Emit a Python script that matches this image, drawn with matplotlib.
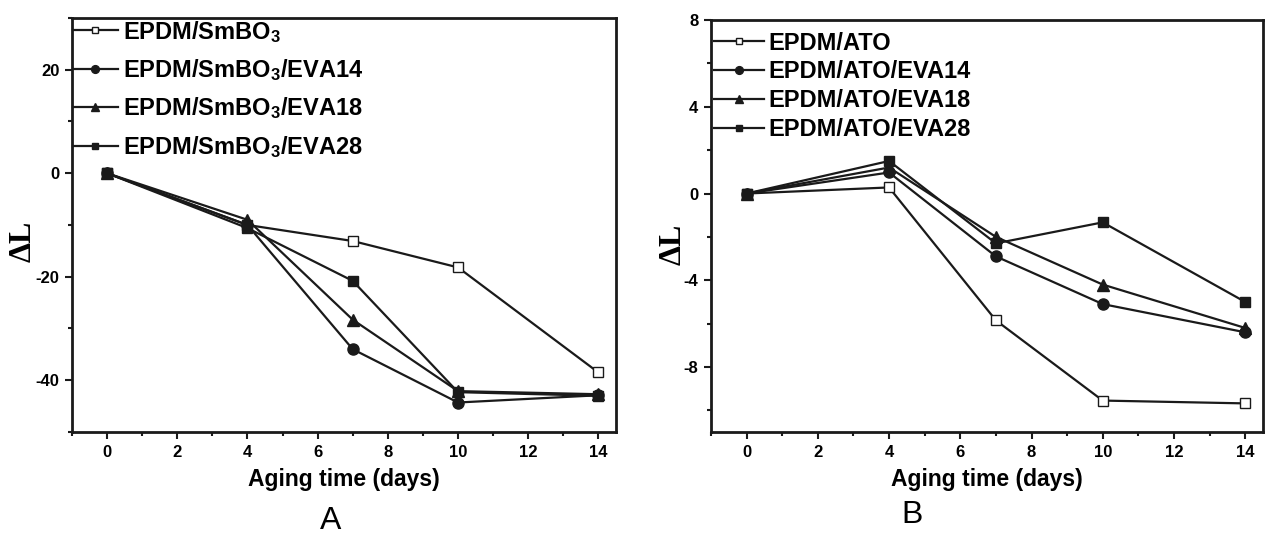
import matplotlib
matplotlib.use("Agg")
import matplotlib.pyplot as plt
from matplotlib.ticker import MultipleLocator

plt.rcParams['font.family'] = ['Liberation Sans', 'DejaVu Sans']
plt.rcParams['mathtext.fontset'] = 'custom'
plt.rcParams['mathtext.bf'] = 'Liberation Sans:bold'
plt.rcParams['mathtext.rm'] = 'Liberation Sans:bold'
plt.rcParams['axes.unicode_minus'] = False

# aging time (days)
days = [0, 4, 7, 10, 14]

# panel A: EPDM/SmBO3 series
a_smbo3 = [0, -10.0, -13.1, -18.2, -38.5]
a_eva14 = [0, -10.0, -34.0, -44.3, -42.9]
a_eva18 = [0, -9.0, -28.3, -42.1, -42.7]
a_eva28 = [0, -10.6, -20.8, -42.3, -43.0]
a_labels = [r'EPDM/SmBO$\mathbf{_3}$', r'EPDM/SmBO$\mathbf{_3}$/EVA14',
            r'EPDM/SmBO$\mathbf{_3}$/EVA18', r'EPDM/SmBO$\mathbf{_3}$/EVA28']

# panel B: EPDM/ATO series
b_ato = [0, 0.28, -5.85, -9.55, -9.68]
b_eva14 = [0, 0.97, -2.9, -5.1, -6.4]
b_eva18 = [0, 1.2, -2.0, -4.2, -6.2]
b_eva28 = [0, 1.5, -2.3, -1.33, -5.0]
b_labels = ['EPDM/ATO', 'EPDM/ATO/EVA14', 'EPDM/ATO/EVA18', 'EPDM/ATO/EVA28']

INK = '#1a1a1a'
STYLES = [dict(marker='s', mfc='white', ms=7),
          dict(marker='o', mfc=INK, ms=8),
          dict(marker='^', mfc=INK, ms=8),
          dict(marker='s', mfc=INK, ms=7)]


def draw_panel(ax, series, labels, ylim, ymajor, yminor, leg_kw):
    for ys, lab, st in zip(series, labels, STYLES):
        ax.plot(days, ys, color=INK, lw=1.6, mec=INK, mew=1.0, label=lab, **st)
    ax.set_xlim(-1, 14.5)
    ax.set_ylim(*ylim)
    ax.xaxis.set_major_locator(MultipleLocator(2))
    ax.xaxis.set_minor_locator(MultipleLocator(1))
    ax.yaxis.set_major_locator(MultipleLocator(ymajor))
    ax.yaxis.set_minor_locator(MultipleLocator(yminor))
    for s in ax.spines.values():
        s.set_linewidth(2)
        s.set_color(INK)
    ax.tick_params(which='major', length=5, width=1.5, color=INK, labelsize=12, pad=4)
    ax.tick_params(which='minor', length=3, width=1.5, color=INK)
    for t in ax.get_xticklabels() + ax.get_yticklabels():
        t.set_fontweight('bold')
    ax.set_xlabel('Aging time (days)', fontsize=16.5, fontweight='bold', labelpad=6)
    ax.set_ylabel('ΔL', fontsize=23, fontweight='bold', family='Liberation Serif')
    ax.legend(loc='upper left', frameon=False, borderpad=0.0, borderaxespad=0.0,
              handletextpad=0.2, markerscale=0.7, **leg_kw)


fig = plt.figure(figsize=(12.76, 5.35), dpi=100)
ax1 = fig.add_axes([0.0564, 0.1925, 0.4263, 0.774])
ax2 = fig.add_axes([0.5572, 0.1925, 0.4326, 0.770])

draw_panel(ax1, [a_smbo3, a_eva14, a_eva18, a_eva28], a_labels, (-50, 30), 20, 10,
           dict(bbox_to_anchor=(0.002, 0.998), handlelength=1.9, labelspacing=0.53,
                prop=dict(size=17, weight='bold')))
draw_panel(ax2, [b_ato, b_eva14, b_eva18, b_eva28], b_labels, (-11, 8), 4, 2,
           dict(bbox_to_anchor=(0.006, 0.972), handlelength=2.1, labelspacing=0.25,
                prop=dict(size=17, weight='bold')))

ax1.yaxis.set_label_coords(-0.064, 0.46)
ax2.yaxis.set_label_coords(-0.042, 0.456)

fig.text(0.259, 0.026, 'A', fontsize=23, ha='center', va='center')
fig.text(0.715, 0.037, 'B', fontsize=23, ha='center', va='center')

fig.savefig('out.png', dpi=100)
